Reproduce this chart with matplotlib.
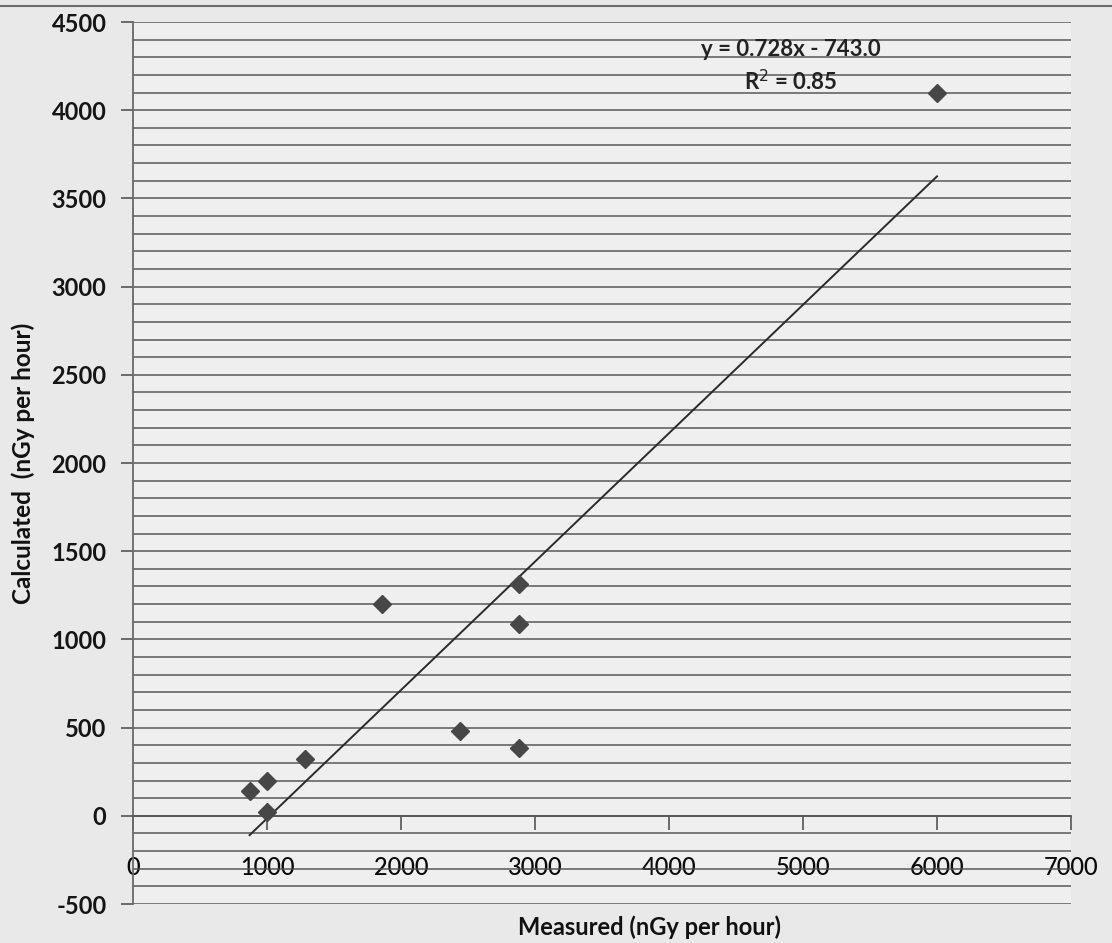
import numpy as np
import matplotlib
matplotlib.use("Agg")
import matplotlib.pyplot as plt
from matplotlib.ticker import MultipleLocator
from matplotlib.lines import Line2D

plt.rcParams['axes.unicode_minus'] = False

# measured vs calculated dose rate (nGy per hour)
measured = [870, 1000, 1000, 1280, 1860, 2440, 2880, 2880, 2880, 6000]
calculated = [140, 200, 20, 320, 1200, 480, 1315, 1090, 385, 4100]

# trendline as printed on the chart
slope = 0.728
intercept = -743.0
r_squared = 0.85

x_ticks = [0, 1000, 2000, 3000, 4000, 5000, 6000, 7000]
y_ticks = [-500, 0, 500, 1000, 1500, 2000, 2500, 3000, 3500, 4000, 4500]

W, H = 1112, 943
fig = plt.figure(figsize=(W / 100, H / 100), dpi=100)
fig.patch.set_facecolor('#e9e9e9')

ax = fig.add_axes([133 / W, 1 - 904 / H, (1071 - 133) / W, (904 - 22) / H])
ax.set_facecolor('#efefef')
ax.set_xlim(0, 7000)
ax.set_ylim(-500, 4500)

# dense horizontal gridlines every 100
ax.yaxis.set_minor_locator(MultipleLocator(100))
ax.grid(which='both', axis='y', color='#4c4c4c', linewidth=1.2, alpha=0.85)
ax.set_axisbelow(True)

for s in ['top', 'right']:
    ax.spines[s].set_visible(False)
ax.spines['left'].set_color('#6a6a6a')
ax.spines['left'].set_linewidth(1.3)
ax.spines['bottom'].set_position(('data', 0))
ax.spines['bottom'].set_color('#555555')
ax.spines['bottom'].set_linewidth(1.3)

ax.set_xticks(x_ticks)
ax.set_yticks(y_ticks)
ax.tick_params(axis='y', which='major', length=9, width=1.2, color='#555555',
               direction='out', pad=10, labelsize=17, labelcolor='#151515')
ax.tick_params(axis='y', which='minor', length=0)
ax.tick_params(axis='x', length=10, width=1.2, color='#555555',
               direction='out', pad=19, labelsize=17, labelcolor='#0a0a0a')
for lab in ax.get_yticklabels():
    lab.set_fontfamily('Lato')
    lab.set_fontweight('bold')
for lab in ax.get_xticklabels():
    lab.set_fontfamily('Lato')
    lab.set_fontweight('medium')

# points
ax.plot(measured, calculated, linestyle='none', marker='D', markersize=9.5,
        color='#474747', zorder=4)

# linear trendline over the data range
xs = np.array([min(measured), max(measured)])
ax.plot(xs, slope * xs + intercept, color='#2a2a2a', linewidth=1.4, zorder=3)

fig.text(791 / W, 1 - 50 / H, 'y = %.3fx - %.1f' % (slope, -intercept),
         ha='center', va='center', fontsize=16, family='Lato',
         fontweight='bold', color='#222222')
fig.text(791 / W, 1 - 82 / H, 'R$^2$ = %.2f' % r_squared,
         ha='center', va='center', fontsize=16, family='Lato',
         fontweight='bold', color='#222222')

fig.text(23 / W, 1 - 463 / H, 'Calculated  (nGy per hour)', rotation=90,
         ha='center', va='center', fontsize=17.5, family='Lato',
         fontweight='bold', color='#111111')
fig.text(650 / W, 1 - 927 / H, 'Measured (nGy per hour)',
         ha='center', va='center', fontsize=17, family='Lato',
         fontweight='bold', color='#111111')

# dark page edge at the top of the scan
fig.add_artist(Line2D([0, 1], [1 - 6 / H, 1 - 6 / H], color='#6d6d6d',
                      linewidth=1.5, transform=fig.transFigure))

fig.savefig('out.png', dpi=100, facecolor=fig.get_facecolor())
